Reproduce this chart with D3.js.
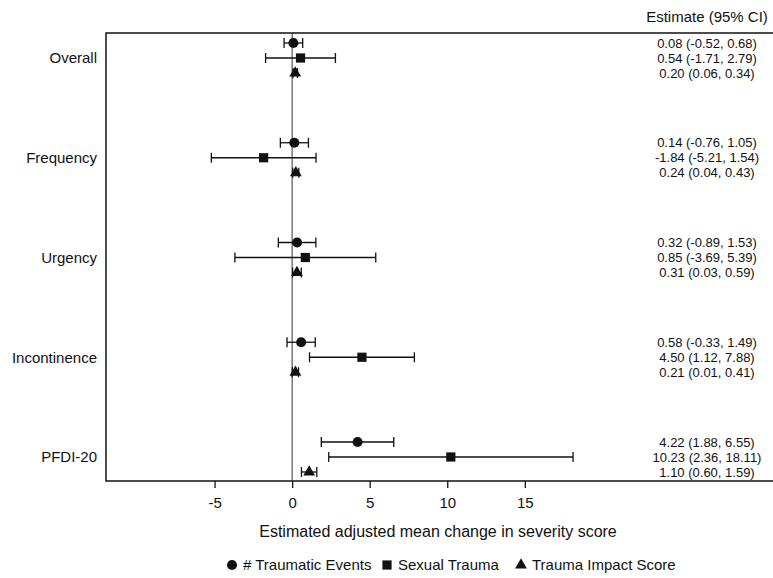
<!DOCTYPE html>
<html>
<head>
<meta charset="utf-8">
<script src="https://cdn.jsdelivr.net/npm/d3@7"></script>
<style>
  body { margin: 0; background: #fff; }
  text { font-family: "Liberation Sans", Arial, sans-serif; fill: #111; }
</style>
</head>
<body>
<script>
// DATA
const categories = ["Overall", "Frequency", "Urgency", "Incontinence", "PFDI-20"];
const seriesNames = ["# Traumatic Events", "Sexual Trauma", "Trauma Impact Score"];
const seriesShapes = ["circle", "square", "triangle"];

const traumaticEst = [0.08, 0.14, 0.32, 0.58, 4.22];
const traumaticLow = [-0.52, -0.76, -0.89, -0.33, 1.88];
const traumaticHigh = [0.68, 1.05, 1.53, 1.49, 6.55];

const sexualEst = [0.54, -1.84, 0.85, 4.50, 10.23];
const sexualLow = [-1.71, -5.21, -3.69, 1.12, 2.36];
const sexualHigh = [2.79, 1.54, 5.39, 7.88, 18.11];

const impactEst = [0.20, 0.24, 0.31, 0.21, 1.10];
const impactLow = [0.06, 0.04, 0.03, 0.01, 0.60];
const impactHigh = [0.34, 0.43, 0.59, 0.41, 1.59];

const xTicks = [-5, 0, 5, 10, 15];

// BUILD ROWS
const ests = [traumaticEst, sexualEst, impactEst];
const lows = [traumaticLow, sexualLow, impactLow];
const highs = [traumaticHigh, sexualHigh, impactHigh];
const rows = [];
categories.forEach(function(c, i) {
  seriesNames.forEach(function(s, j) {
    rows.push({cat: c, s: j, est: ests[j][i], lo: lows[j][i], hi: highs[j][i]});
  });
});

// SIZES
const W = 773, H = 578;
const plot = {left: 106, right: 773, top: 33, bottom: 481};
const rowGap = 15;

const svg = d3.select("body").append("svg")
  .attr("width", W)
  .attr("height", H);

// SCALES
const x = d3.scaleLinear().domain([-12, 31]).range([plot.left, plot.right]);
const y = d3.scalePoint().domain(categories).range([58, 457]);
const yRow = d => y(d.cat) + (d.s - 1) * rowGap;

// FRAME
svg.append("path")
  .attr("d", `M${plot.right},${plot.top}H${plot.left}V${plot.bottom}H${plot.right}`)
  .attr("fill", "none")
  .attr("stroke", "#111")
  .attr("stroke-width", 1.5);

// ZERO LINE
svg.append("line")
  .attr("x1", x(0)).attr("x2", x(0))
  .attr("y1", plot.top).attr("y2", plot.bottom)
  .attr("stroke", "#333")
  .attr("stroke-width", 1);

// X AXIS
const xAxis = svg.append("g")
  .attr("transform", `translate(0,${plot.bottom})`)
  .call(d3.axisBottom(x).tickValues(xTicks).tickSize(7).tickPadding(9).tickFormat(d => String(d)));
xAxis.select(".domain").remove();
xAxis.selectAll("line").attr("stroke", "#111").attr("stroke-width", 1.3);
xAxis.selectAll("text")
  .style("font-family", "Liberation Sans, Arial, sans-serif")
  .style("font-size", "15px")
  .attr("fill", "#111");

svg.append("text")
  .attr("x", 438)
  .attr("y", 537)
  .attr("text-anchor", "middle")
  .style("font-size", "16px")
  .text("Estimated adjusted mean change in severity score");

// Y LABELS
svg.selectAll(".catLabel")
  .data(categories)
  .join("text")
  .attr("class", "catLabel")
  .attr("x", 97)
  .attr("y", d => y(d))
  .attr("dy", "0.35em")
  .attr("text-anchor", "end")
  .style("font-size", "15px")
  .text(d => d);

// ERROR BARS
const bars = svg.append("g").selectAll("g")
  .data(rows)
  .join("g")
  .attr("stroke", "#111")
  .attr("stroke-width", 1.3);
bars.append("line")
  .attr("x1", d => x(d.lo)).attr("x2", d => x(d.hi))
  .attr("y1", yRow).attr("y2", yRow);
bars.append("line")
  .attr("x1", d => x(d.lo)).attr("x2", d => x(d.lo))
  .attr("y1", d => yRow(d) - 5).attr("y2", d => yRow(d) + 5);
bars.append("line")
  .attr("x1", d => x(d.hi)).attr("x2", d => x(d.hi))
  .attr("y1", d => yRow(d) - 5).attr("y2", d => yRow(d) + 5);

// MARKERS
const symbolType = {circle: d3.symbolCircle, square: d3.symbolSquare, triangle: d3.symbolTriangle};
const symbolSize = {circle: 80, square: 85, triangle: 60};
svg.append("g").selectAll("path")
  .data(rows)
  .join("path")
  .attr("transform", d => `translate(${x(d.est)},${yRow(d)})`)
  .attr("d", d => d3.symbol().type(symbolType[seriesShapes[d.s]]).size(symbolSize[seriesShapes[d.s]])())
  .attr("fill", "#111");

// ESTIMATE TEXT
const f = d3.format(".2f");
const fmt = v => f(v).replace("\u2212", "-");
svg.append("text")
  .attr("x", 707)
  .attr("y", 22)
  .attr("text-anchor", "middle")
  .style("font-size", "15px")
  .text("Estimate (95% CI)");
svg.append("g").selectAll("text")
  .data(rows)
  .join("text")
  .attr("x", 707)
  .attr("y", yRow)
  .attr("dy", "0.35em")
  .attr("text-anchor", "middle")
  .style("font-size", "13px")
  .text(d => `${fmt(d.est)} (${fmt(d.lo)}, ${fmt(d.hi)})`);

// LEGEND
const legendX = [232, 387, 521];
const legend = svg.append("g").selectAll("g")
  .data(seriesNames)
  .join("g")
  .attr("transform", (d, i) => `translate(${legendX[i]},565)`);
legend.append("path")
  .attr("d", (d, i) => d3.symbol().type(symbolType[seriesShapes[i]]).size(symbolSize[seriesShapes[i]])())
  .attr("fill", "#111");
legend.append("text")
  .attr("x", 11)
  .attr("dy", "0.35em")
  .style("font-size", "15px")
  .text(d => d);
</script>
</body>
</html>
